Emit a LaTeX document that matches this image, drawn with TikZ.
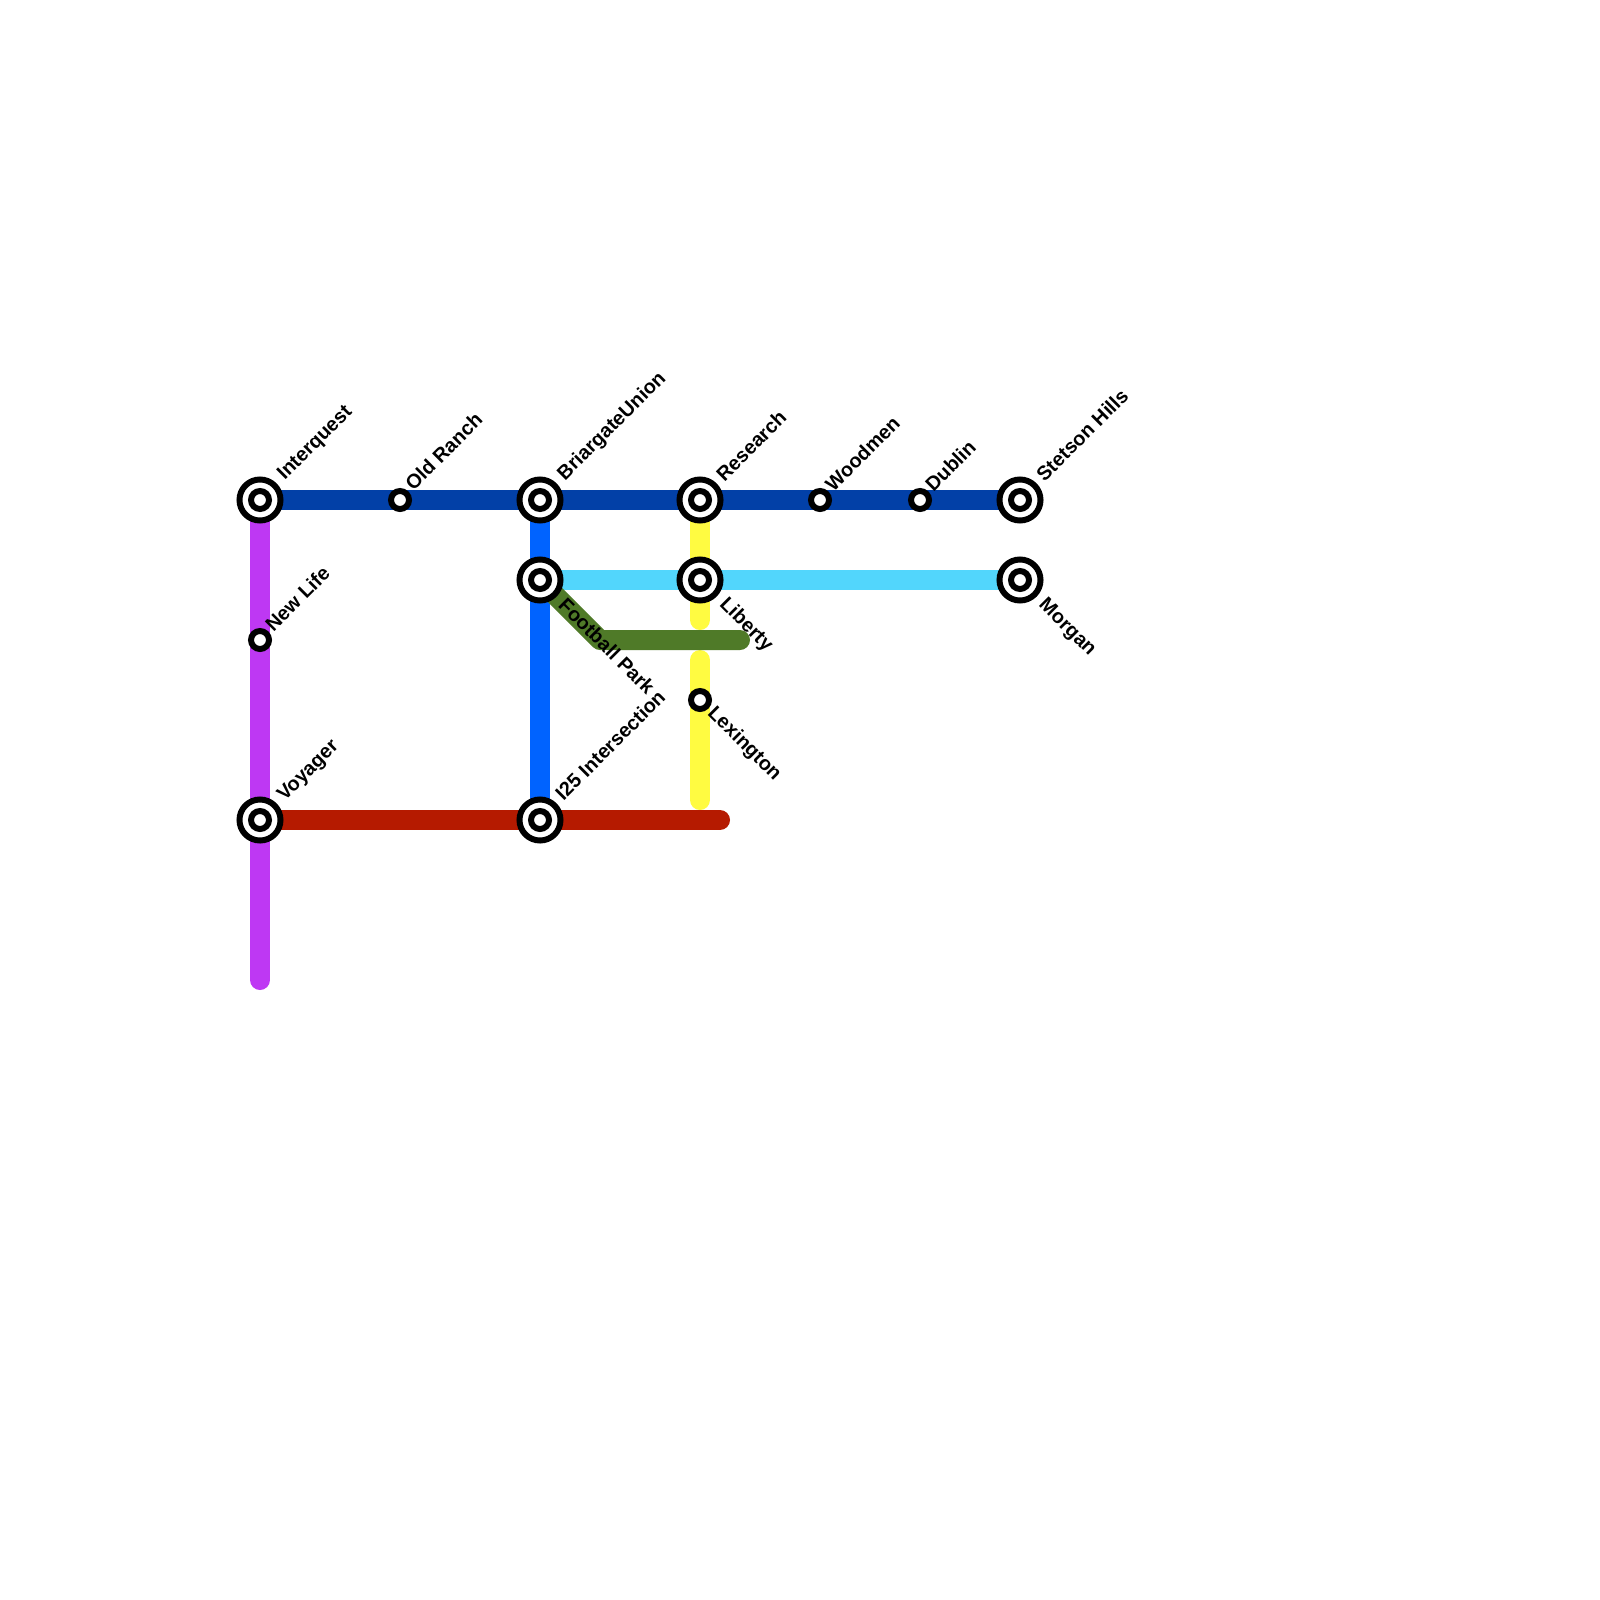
\documentclass[tikz,border=0pt]{standalone}
\usepackage{fontspec}
\usepackage{xcolor}
\usetikzlibrary{calc,backgrounds}
\setmainfont{Liberation Sans}
\definecolor{navy}{RGB}{2, 64, 167}
\definecolor{royal}{RGB}{0, 99, 255}
\definecolor{violet}{RGB}{190, 56, 243}
\definecolor{sky}{RGB}{82, 214, 252}
\definecolor{moss}{RGB}{79, 122, 40}
\definecolor{lemon}{RGB}{255, 251, 65}
\definecolor{brick}{RGB}{181, 26, 0}
\tikzset{
  stop/.style={circle,draw=black,fill=white,line width=1.7pt,minimum size=0.18cm,inner sep=0pt,outer sep=0pt},
  hub/.style={circle,draw=black,fill=white,line width=1.7pt,minimum size=0.41cm,inner sep=0pt,outer sep=0pt,
    path picture={\draw[black,line width=1.7pt] (path picture bounding box.center) circle (9);}},
  track/.style={line width=5.69pt,line cap=round,line join=round},
  upname/.style={rotate=45,anchor=west,inner sep=0pt,font=\bfseries\fontsize{5.65pt}{6pt}\selectfont},
  downname/.style={rotate=-45,anchor=west,inner sep=0pt,font=\bfseries\fontsize{5.65pt}{6pt}\selectfont}
}
\begin{document}
\begin{tikzpicture}[x=0.01cm,y=-0.01cm]
\useasboundingbox (0,0) rectangle (1600,1600);
\node[hub] (interquest) at (260,500) {};
\node[stop] (oldranch) at (400,500) {};
\node[hub] (briargate) at (540,500) {};
\node[hub] (research) at (700,500) {};
\node[stop] (woodmen) at (820,500) {};
\node[stop] (dublin) at (920,500) {};
\node[hub] (stetson) at (1020,500) {};
\node[hub] (football) at (540,580) {};
\node[hub] (liberty) at (700,580) {};
\node[hub] (morgan) at (1020,580) {};
\node[stop] (newlife) at (260,640) {};
\node[stop] (lexington) at (700,700) {};
\node[hub] (voyager) at (260,820) {};
\node[hub] (intersection) at (540,820) {};
\coordinate (violetend) at (260,980);
\coordinate (brickend) at (720,820);
\coordinate (mossbend) at (600,640);
\coordinate (mossend) at (740,640);
\coordinate (lemonstop) at (700,620);
\coordinate (lemonstart) at (700,660);
\coordinate (lemonend) at (700,800);
\begin{scope}[on background layer]
\draw[track,violet] (interquest.center) -- (newlife.center) -- (voyager.center) -- (violetend);
\draw[track,royal] (briargate.center) -- (football.center) -- (intersection.center);
\draw[track,lemon] (research.center) -- (liberty.center) -- (lemonstop);
\draw[track,lemon] (lemonstart) -- (lexington.center) -- (lemonend);
\draw[track,navy] (interquest.center) -- (oldranch.center) -- (briargate.center) -- (research.center) -- (woodmen.center) -- (dublin.center) -- (stetson.center);
\draw[track,sky] (football.center) -- (liberty.center) -- (morgan.center);
\draw[track,moss] (football.center) -- (mossbend) -- (mossend);
\draw[track,brick] (voyager.center) -- (intersection.center) -- (brickend);
\end{scope}
\node[upname] (interquestname) at ($(interquest)+(21,-22)$) {Interquest};
\node[upname] (oldranchname) at ($(oldranch)+(8,-13)$) {Old Ranch};
\node[upname] (briargatename) at ($(briargate)+(21,-22)$) {BriargateUnion};
\node[upname] (researchname) at ($(research)+(19,-22)$) {Research};
\node[upname] (woodmenname) at ($(woodmen)+(8,-12)$) {Woodmen};
\node[upname] (dublinname) at ($(dublin)+(8,-12)$) {Dublin};
\node[upname] (stetsonname) at ($(stetson)+(19,-22)$) {Stetson Hills};
\node[upname] (newlifename) at ($(newlife)+(8,-12)$) {New Life};
\node[upname] (voyagername) at ($(voyager)+(21,-21)$) {Voyager};
\node[upname] (intersectionname) at ($(intersection)+(18,-23)$) {I25 Intersection};
\node[downname] (footballname) at ($(football)+(22,21)$) {Football Park};
\node[downname] (libertyname) at ($(liberty)+(22,21)$) {Liberty};
\node[downname] (morganname) at ($(morgan)+(21,22)$) {Morgan};
\node[downname] (lexingtonname) at ($(lexington)+(10,10)$) {Lexington};
\end{tikzpicture}
\end{document}
